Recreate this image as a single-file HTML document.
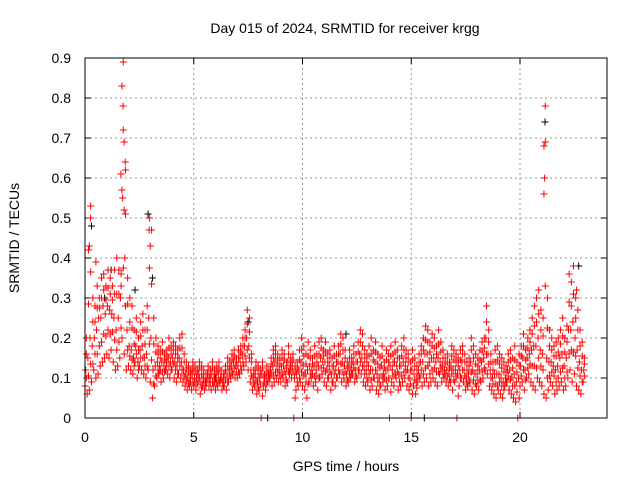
<!DOCTYPE html>
<html><head><meta charset="utf-8"><style>
body{margin:0;background:#fff;}
svg{display:block;font-family:"Liberation Sans",sans-serif;}
</style></head><body>
<svg id="chart" width="640" height="480">
<text x="345" y="33" font-size="14" text-anchor="middle">Day 015 of 2024, SRMTID for receiver krgg</text>
<text x="346" y="471" font-size="14" text-anchor="middle">GPS time / hours</text>
<text transform="translate(19,238) rotate(-90)" font-size="14" text-anchor="middle">SRMTID / TECUs</text>
<g id="grid"></g><g id="ticks"></g><g id="marks"></g>
<rect x="85" y="58" width="522" height="360" fill="none" stroke="#000" stroke-width="1"/>
</svg>
<script>
const xTicks=[0,5,10,15,20];
const yTicks=[0,0.1,0.2,0.3,0.4,0.5,0.6,0.7,0.8,0.9];
const yTickLabels=["0","0.1","0.2","0.3","0.4","0.5","0.6","0.7","0.8","0.9"];
const redHi=[20,42,53,30,28,33,30,35,36,33,37,35,33,37,40,37,36,89,62,35,30,28,22,25,20,24,26,22,28,50,47,25,20,18,17,19,16,17,20,18,19,18,17,20,21,16,14,13,12,14,13,12,14,13,12,11,13,12,14,12,13,14,12,11,13,15,14,16,17,15,17,18,20,22,27,25,16,12,14,13,12,14,11,13,12,15,17,18,16,15,17,16,14,18,15,16,13,14,17,20,18,16,19,17,15,18,16,19,20,17,19,16,17,15,18,16,18,21,20,17,14,17,15,18,16,19,22,21,17,16,18,20,17,19,16,15,18,14,17,16,18,16,19,17,15,18,20,17,16,14,17,15,13,16,18,20,23,22,19,21,20,18,22,19,17,15,16,14,18,17,16,15,17,18,16,14,15,20,18,16,15,17,19,20,28,22,16,14,17,18,16,15,14,13,16,17,15,18,14,16,18,21,17,20,22,25,28,30,32,27,25,78,30,22,20,18,19,20,22,25,20,23,36,34,38,30,27,22,19,15];
const redMid=[12,15,20,18,20,22,25,25,28,26,28,27,26,25,22,25,30,55,40,22,18,17,15,18,14,17,18,15,16,25,20,12,13,14,13,14,13,14,15,14,15,14,13,15,14,12,11,10,10,11,10,10,11,9,10,9,11,10,11,10,10,11,10,9,11,11,12,13,14,13,13,15,16,18,20,18,12,10,11,9,10,11,10,10,11,12,13,14,13,12,13,13,11,14,13,13,10,11,12,14,13,11,12,13,12,13,12,13,15,14,14,12,13,11,13,12,14,16,14,13,11,13,12,14,12,14,16,15,13,12,13,12,12,14,11,10,13,11,12,12,13,12,14,13,11,13,14,13,12,10,12,11,9,12,14,14,16,16,14,15,15,14,15,14,13,12,12,11,13,12,12,11,12,14,12,10,11,14,12,11,11,12,14,15,20,16,12,10,11,11,11,10,9,10,12,12,10,11,9,10,13,15,12,15,16,17,18,18,20,17,16,60,15,14,14,13,12,13,15,16,13,15,22,22,24,20,17,14,12,12];
const redLo=[8,6,7,9,12,10,11,13,14,15,16,15,17,14,12,13,15,20,16,12,13,12,11,14,10,13,12,11,10,12,9,5,8,10,11,9,10,12,11,10,12,10,9,11,10,9,8,7,8,7,8,7,9,6,8,7,9,8,7,8,7,8,9,7,8,7,9,10,11,10,10,11,12,13,14,12,9,7,8,6,7,0,8,7,9,10,8,9,10,9,9,10,8,9,11,10,0,7,8,9,8,7,5,9,10,8,9,7,10,11,9,8,10,7,9,8,10,11,9,10,8,9,10,11,9,10,12,11,9,8,9,7,8,10,7,6,8,9,7,8,0,9,8,10,7,8,9,10,8,7,0,8,6,9,10,8,9,10,8,9,10,9,8,11,9,10,9,8,9,7,9,0,8,10,9,7,8,9,7,6,8,7,9,10,12,11,8,7,6,5,7,6,5,8,9,7,6,5,4,0,8,9,7,10,11,9,8,7,10,9,8,6,5,7,9,8,6,7,8,9,7,8,10,12,9,11,8,7,6,9];
const spikeT=[1.7,1.75,1.8,1.85,1.7,1.8,0.2,0.25,2.95,3.0,21.1,21.1,22.6,1.65,0.5];
const spikeV=[0.83,0.78,0.69,0.64,0.57,0.52,0.43,0.5,0.47,0.43,0.68,0.56,0.32,0.61,0.39];
const blackT=[0.3,1.2,2.9,3.1,21.15,22.7,7.5,12,15.6,8.4,0.9,2.3,19.5,6.0];
const blackV=[0.48,0.37,0.51,0.35,0.74,0.38,0.24,0.21,0,0,0.3,0.32,0.07,0.1];
const X0=85,X1=607,Y0=418,Y1=58,XMAX=24,YMAX=0.9;
const sx=t=>X0+(X1-X0)*t/XMAX, sy=v=>Y0-(Y0-Y1)*v/YMAX;
const NS="http://www.w3.org/2000/svg";
const grid=document.getElementById('grid'),ticks=document.getElementById('ticks'),marks=document.getElementById('marks');
function el(tag,attrs,parent){const e=document.createElementNS(NS,tag);for(const k in attrs)e.setAttribute(k,attrs[k]);parent.appendChild(e);return e;}
xTicks.forEach(t=>{
  const x=sx(t);
  if(t>0){const g=el('line',{x1:x,x2:x,y1:Y1,y2:Y0,stroke:'#999','stroke-dasharray':'2,3'},grid);
  
  }
  const tk=el('path',{d:`M${x},${Y0}v-6M${x},${Y1}v6`,stroke:'#000'},ticks);
  
  
  const lb=el('text',{x:x,y:Y0+24,'font-size':14,'text-anchor':'middle'},ticks);lb.textContent=t;
  
  
});
yTicks.forEach((v,i)=>{
  const y=sy(v);
  if(v>0&&v<YMAX){const g=el('line',{x1:X0,x2:X1,y1:y,y2:y,stroke:'#999','stroke-dasharray':'2,3'},grid);
  
  }
  const tk=el('path',{d:`M${X0},${y}h6M${X1},${y}h-6`,stroke:'#000'},ticks);
  
  
  const lb=el('text',{x:X0-14,y:y+5,'font-size':14,'text-anchor':'end'},ticks);lb.textContent=yTickLabels[i];
  
  
});
function plus(t,v,color,name){
  const x=sx(t),y=sy(v);
  const p=el('path',{d:`M${x-3.5},${y}h7M${x},${y-3.5}v7`,stroke:color,'stroke-width':1},marks);
  
  
}
blackT.forEach((t,i)=>plus(t,blackV[i],'#000','black-point'));
[redLo,redMid,redHi].forEach((arr,k)=>arr.forEach((v,i)=>{plus(i*0.1+k*0.03,v/100,'#f00','red-point');}));
[redLo,redMid].forEach((arr,k)=>arr.forEach((v,i)=>{plus(i*0.1+0.06,(v+(k?redHi[i]:redMid[i]))/200,'#f00','red-point');}));
spikeT.forEach((t,i)=>plus(t,spikeV[i],'#f00','red-spike-point'));
</script>
</body></html>
